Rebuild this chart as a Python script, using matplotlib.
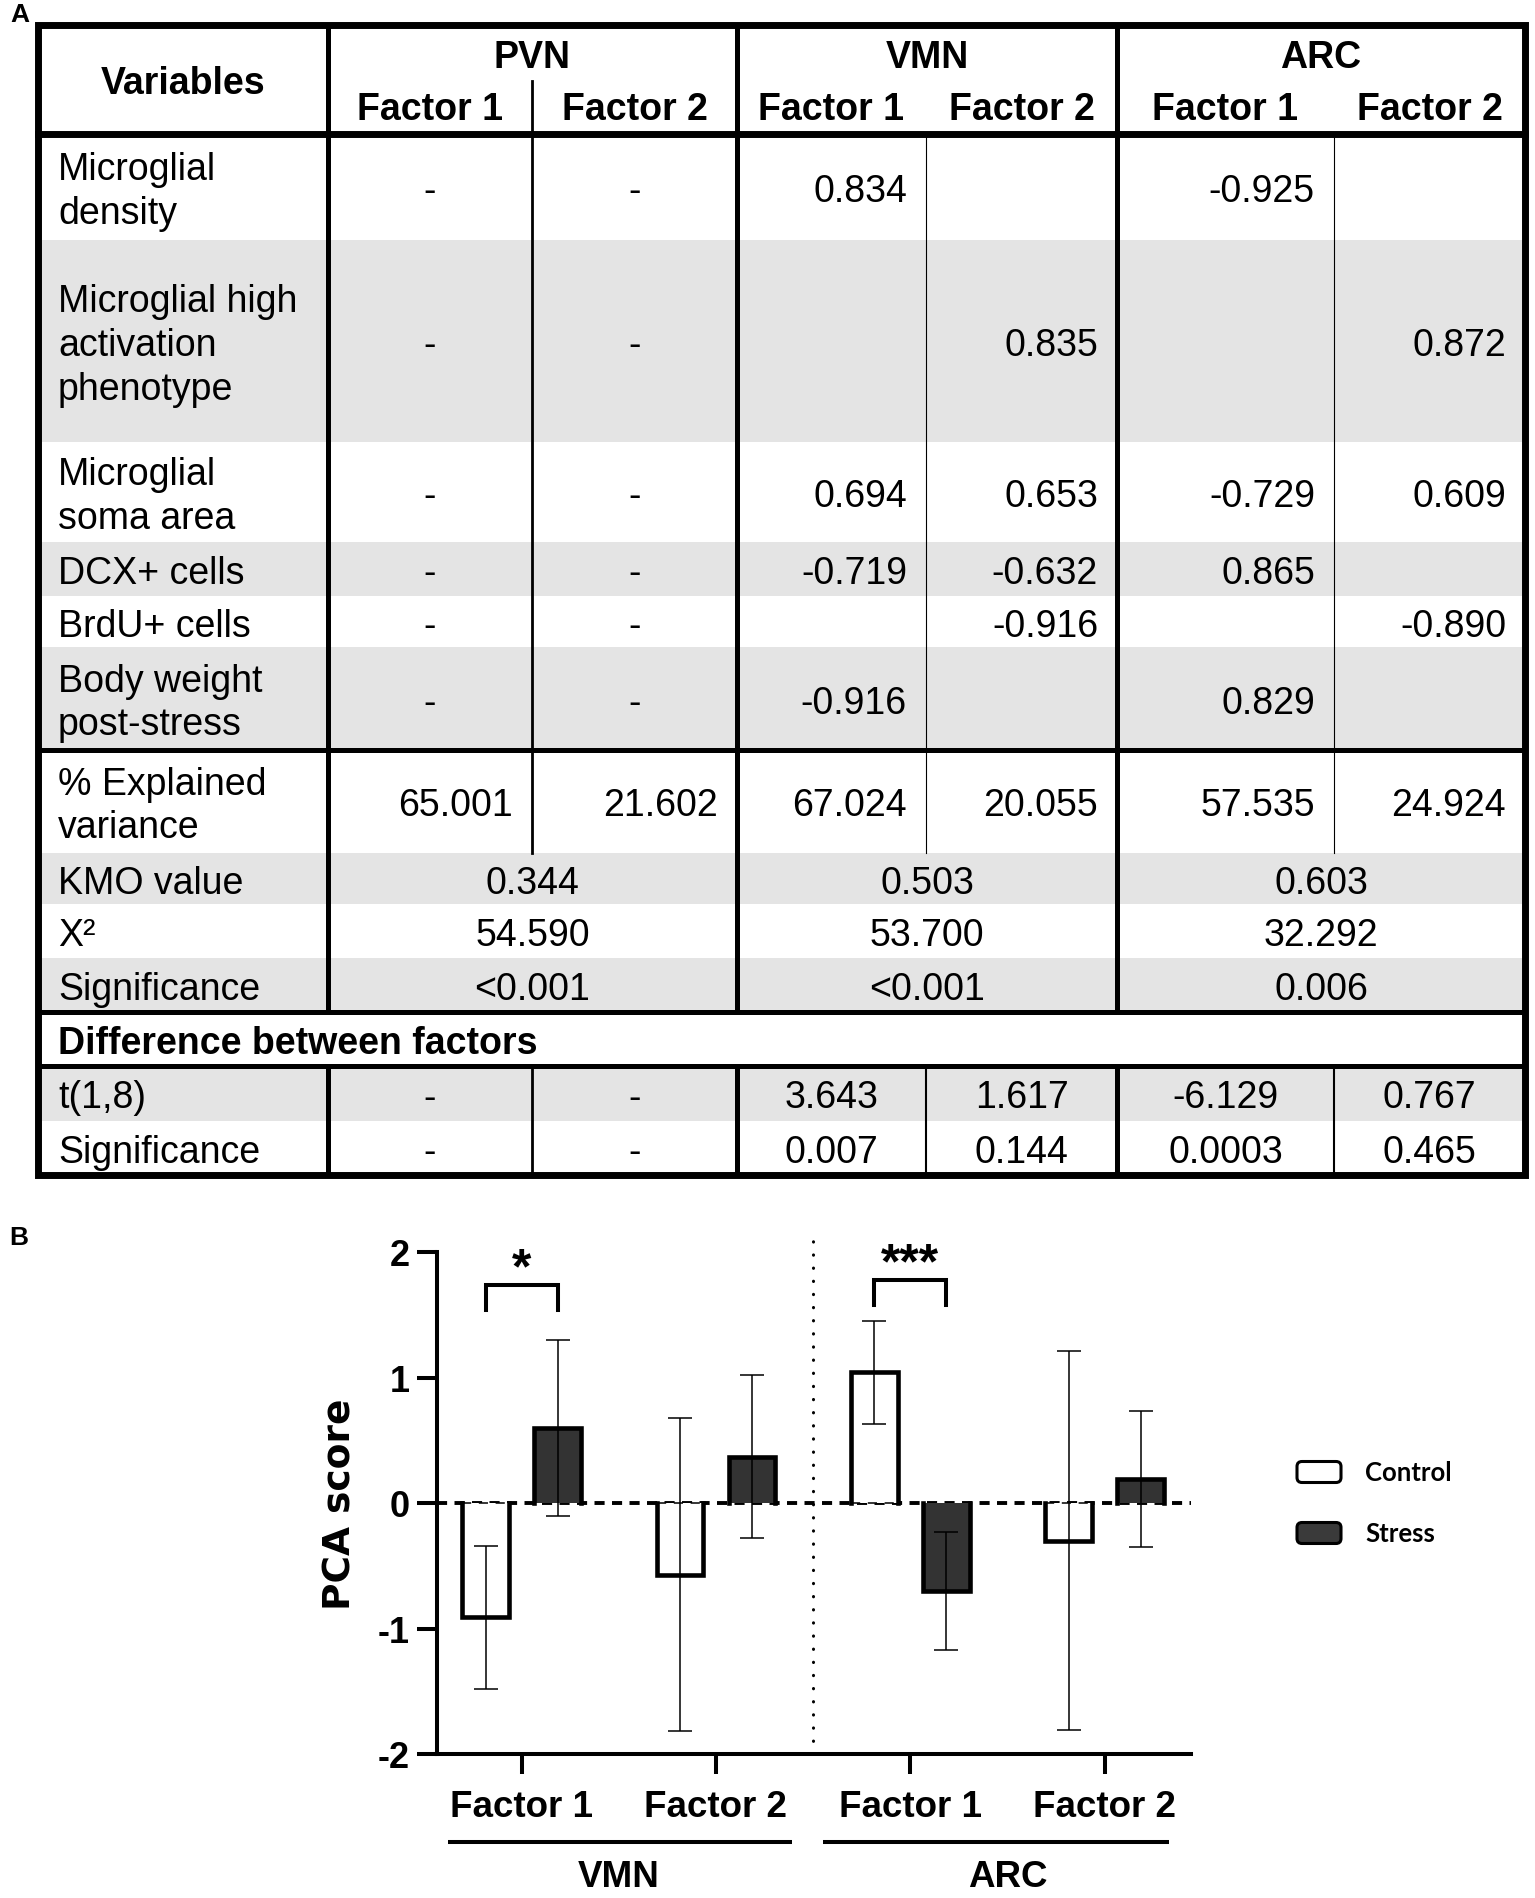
import matplotlib
matplotlib.use("Agg")
import matplotlib.pyplot as plt
import numpy as np
from matplotlib.patches import Rectangle, FancyBboxPatch
from matplotlib.transforms import blended_transform_factory

# ---------------- table data (panel A) ----------------
regions_tbl = ["PVN", "VMN", "ARC"]
factor_names = ["Factor 1", "Factor 2"]
row_labels = ["Microglial\ndensity",
              "Microglial high\nactivation\nphenotype",
              "Microglial\nsoma area",
              "DCX+ cells",
              "BrdU+ cells",
              "Body weight\npost-stress"]
pvn_loadings = [["-", "-"], ["-", "-"], ["-", "-"], ["-", "-"], ["-", "-"], ["-", "-"]]
vmn_loadings = [["0.834", ""], ["", "0.835"], ["0.694", "0.653"],
                ["-0.719", "-0.632"], ["", "-0.916"], ["-0.916", ""]]
arc_loadings = [["-0.925", ""], ["", "0.872"], ["-0.729", "0.609"],
                ["0.865", ""], ["", "-0.890"], ["0.829", ""]]
explained_var = [["65.001", "21.602"], ["67.024", "20.055"], ["57.535", "24.924"]]
stat_labels = ["KMO value", "X²", "Significance"]
kmo_values = ["0.344", "0.503", "0.603"]
chi2_values = ["54.590", "53.700", "32.292"]
sig_values = ["<0.001", "<0.001", "0.006"]
diff_title = "Difference between factors"
diff_labels = ["t(1,8)", "Significance"]
t_values = [["-", "-"], ["3.643", "1.617"], ["-6.129", "0.767"]]
t_sig = [["-", "-"], ["0.007", "0.144"], ["0.0003", "0.465"]]

# ---------------- bar data (panel B) ----------------
factors = ["Factor 1", "Factor 2", "Factor 1", "Factor 2"]
regions = ["VMN", "ARC"]
series = ["Control", "Stress"]
control_mean = [-0.91, -0.57, 1.04, -0.30]
control_err = [0.57, 1.25, 0.41, 1.51]
stress_mean = [0.60, 0.37, -0.70, 0.19]
stress_err = [0.70, 0.65, 0.47, 0.54]
sig_index = [0, 2]
sig_marks = ["*", "***"]
bracket_top = [1.74, 1.78]
yticks = [-2, -1, 0, 1, 2]
ytick_labels = ["-2", "-1", "0", "1", "2"]

W, H = 1535, 1899
fig = plt.figure(figsize=(W / 100, H / 100), dpi=100)

# overlay in pixel coordinates for the table
ov = fig.add_axes([0, 0, 1, 1])
ov.set_xlim(0, W)
ov.set_ylim(H, 0)
ov.axis("off")

TF = "Liberation Sans"
FS = 27
GRAY = "#e4e4e4"

col_edges = [38, 328, 532, 737, 926, 1117, 1334, 1525]
row_edges = [26, 135, 241, 443, 543, 597, 648, 751, 854, 905, 959, 1013, 1067, 1122, 1176]
gray_rows = [2, 4, 6, 8, 10, 12]
PAD = 19
DY = 4  # text sits slightly below the row middle


def mid(a, b):
    return (a + b) / 2


def txt(x, y, s, ha="center", bold=False, size=FS):
    ov.text(x, y + DY, s, ha=ha, va="center", fontsize=size, family=TF,
            fontweight="bold" if bold else "normal", linespacing=1.27)


for r in gray_rows:
    ov.add_patch(Rectangle((col_edges[0], row_edges[r]), col_edges[-1] - col_edges[0],
                           row_edges[r + 1] - row_edges[r], color=GRAY, lw=0, zorder=0))

# header
txt(mid(col_edges[0], col_edges[1]), 80, "Variables", bold=True)
for g, name in enumerate(regions_tbl):
    x0, x1, x2 = col_edges[1 + 2 * g], col_edges[2 + 2 * g], col_edges[3 + 2 * g]
    txt(mid(x0, x2), 54, name, bold=True)
    txt(mid(x0, x1), 106, factor_names[0], bold=True)
    txt(mid(x1, x2), 106, factor_names[1], bold=True)


def cell_value(g, k, r, s, centered=False):
    x0 = col_edges[1 + 2 * g + k]
    x1 = col_edges[2 + 2 * g + k]
    y = mid(row_edges[r], row_edges[r + 1])
    if s == "-" or centered:
        txt(mid(x0, x1), y, s)
    elif s:
        txt(x1 - PAD, y, s, ha="right")


# loadings
for i, lab in enumerate(row_labels):
    r = i + 1
    txt(58, mid(row_edges[r], row_edges[r + 1]), lab, ha="left")
    for g, block in enumerate([pvn_loadings, vmn_loadings, arc_loadings]):
        for k in range(2):
            cell_value(g, k, r, block[i][k])

# explained variance
txt(58, mid(row_edges[7], row_edges[8]), "% Explained\nvariance", ha="left")
for g in range(3):
    for k in range(2):
        cell_value(g, k, 7, explained_var[g][k])

# KMO / chi2 / significance
for j, (lab, vals) in enumerate(zip(stat_labels, [kmo_values, chi2_values, sig_values])):
    r = 8 + j
    y = mid(row_edges[r], row_edges[r + 1])
    txt(58, y, lab, ha="left")
    for g in range(3):
        txt(mid(col_edges[1 + 2 * g], col_edges[3 + 2 * g]), y, vals[g])

# difference rows
txt(58, mid(row_edges[11], row_edges[12]), diff_title, ha="left", bold=True)
for j, (lab, vals) in enumerate(zip(diff_labels, [t_values, t_sig])):
    r = 12 + j
    txt(58, mid(row_edges[r], row_edges[r + 1]), lab, ha="left")
    for g in range(3):
        for k in range(2):
            cell_value(g, k, r, vals[g][k], centered=True)

# table lines
ov.add_patch(Rectangle((col_edges[0], row_edges[0]), col_edges[-1] - col_edges[0],
                       row_edges[-1] - row_edges[0], fill=False, lw=5, ec="black",
                       joinstyle="miter", zorder=3))
ov.plot([col_edges[0], col_edges[-1]], [row_edges[1]] * 2, color="black", lw=5, zorder=3)
for r in [7, 11, 12]:
    ov.plot([col_edges[0], col_edges[-1]], [row_edges[r]] * 2, color="black", lw=3.6, zorder=3)
for c in [1, 3, 5]:
    ov.plot([col_edges[c]] * 2, [row_edges[0], row_edges[11]], color="black", lw=3.6, zorder=3)
    ov.plot([col_edges[c]] * 2, [row_edges[12], row_edges[-1]], color="black", lw=3.6, zorder=3)
ov.plot([col_edges[2]] * 2, [82, row_edges[8]], color="black", lw=2, zorder=3)
ov.plot([col_edges[2]] * 2, [row_edges[12], row_edges[-1]], color="black", lw=2, zorder=3)
for c in [4, 6]:
    ov.plot([col_edges[c]] * 2, [row_edges[1], row_edges[8]], color="black", lw=0.8, zorder=3)
    ov.plot([col_edges[c]] * 2, [row_edges[12], row_edges[-1]], color="black", lw=1.5, zorder=3)

ov.text(20, 15, "A", ha="center", va="center", fontsize=19, fontweight="bold", family=TF)
ov.text(19, 1238, "B", ha="center", va="center", fontsize=19, fontweight="bold", family=TF)

# ---------------- bar chart ----------------
ax_l, ax_r, ax_t, ax_b = 437, 1191, 1253, 1755
ax = fig.add_axes([ax_l / W, (H - ax_b) / H, (ax_r - ax_l) / W, (ax_b - ax_t) / H])
ax.patch.set_alpha(0)

x = np.arange(len(factors))
off = 0.185
bw = 0.24
ax.set_xlim(-0.435, 3.444)
ax.set_ylim(-2, 2)

ax.axhline(0, color="black", lw=2.8, dashes=(2.6, 1.9), zorder=1)
ax.plot([1.5, 1.5], [-2, 2.12], color="black", lw=2.2, dashes=(0.1, 4.2),
        dash_capstyle="round", clip_on=False, zorder=1)

for j, (means, errs, fc, dx) in enumerate([(control_mean, control_err, "white", -off),
                                           (stress_mean, stress_err, "#333333", off)]):
    xs = x + dx
    ax.bar(xs, means, bw, color=fc, edgecolor="none", zorder=2)
    if j == 0:
        # thin dashed baseline seen through the open control bars
        ax.hlines(np.zeros(len(xs)), xs - bw / 2, xs + bw / 2, color="black", lw=1.1,
                  linestyles=[(0, (6, 5))], zorder=3)
    for xi, m in zip(xs, means):
        ax.plot([xi - bw / 2, xi - bw / 2, xi + bw / 2, xi + bw / 2], [0, m, m, 0],
                color="black", lw=3.3, solid_joinstyle="miter", zorder=4)
    ax.errorbar(xs, means, yerr=errs, fmt="none", ecolor="black", elinewidth=1.1,
                capsize=8.3, capthick=1.1, zorder=5)

# significance brackets
for i, mark, top in zip(sig_index, sig_marks, bracket_top):
    x0, x1 = x[i] - off, x[i] + off
    ax.plot([x0, x0, x1, x1], [top - 0.2, top, top, top - 0.2], color="black", lw=2.9,
            solid_joinstyle="miter", zorder=5, clip_on=False)
    ax.text(x[i], top + 0.02, mark, ha="center", va="baseline", fontsize=36,
            fontweight="bold", family=TF, clip_on=False)

for s in ["top", "right"]:
    ax.spines[s].set_visible(False)
for s in ["left", "bottom"]:
    ax.spines[s].set_linewidth(2.9)
ax.set_yticks(yticks, ytick_labels)
ax.set_xticks(x, factors)
ax.tick_params(axis="y", length=14.4, width=2.9, pad=5, labelsize=26)
ax.tick_params(axis="x", length=14.4, width=2.9, pad=11, labelsize=26.5)
for lab in ax.get_xticklabels() + ax.get_yticklabels():
    lab.set_fontweight("bold")
    lab.set_family(TF)

ax.set_ylabel("PCA score", fontsize=27, fontweight="bold", family="DejaVu Sans")
ax.yaxis.set_label_coords(-0.104, 0.5)

# region group labels
tr = blended_transform_factory(ax.transData, ax.transAxes)
line_ext = [(-0.38, 0.39), (-0.45, 0.33)]
for g, reg in enumerate(regions):
    a, b = x[2 * g], x[2 * g + 1]
    lo, hi = line_ext[g]
    ax.plot([a + lo, b + hi], [-0.175, -0.175], color="black", lw=2.9,
            transform=tr, clip_on=False, solid_capstyle="butt")
    ax.text((a + b) / 2, -0.245, reg, ha="center", va="center", fontsize=26.5,
            fontweight="bold", family=TF, transform=tr)

# legend
for name, fc, yc in zip(series, ["white", "#3a3a3a"], [1473, 1534]):
    ov.add_patch(FancyBboxPatch((1297, yc - 10.5), 44, 21,
                                boxstyle="round,pad=0,rounding_size=5",
                                fc=fc, ec="black", lw=2.2, zorder=3))
    ov.text(1365, yc, name, ha="left", va="center", fontsize=18.5,
            fontweight="bold", family="Lato")

fig.savefig("out.png", dpi=100)
